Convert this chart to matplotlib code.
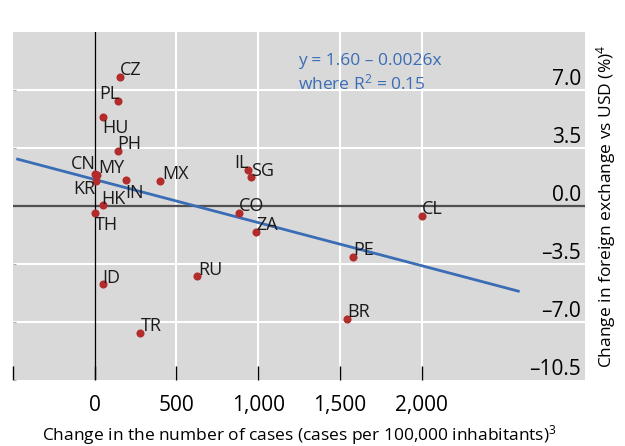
import matplotlib
matplotlib.use("Agg")
import matplotlib.pyplot as plt

plt.rcParams['font.family'] = ['Open Sans', 'DejaVu Sans']
plt.rcParams['mathtext.fontset'] = 'custom'
plt.rcParams['mathtext.rm'] = 'Open Sans'
plt.rcParams['mathtext.it'] = 'Open Sans:italic'

# ---- data ----
countries = ["CZ", "PL", "HU", "PH", "CN", "MY", "KR", "IN", "MX", "IL", "SG",
             "HK", "TH", "CO", "ZA", "CL", "PE", "BR", "RU", "ID", "TR"]
cases_change = [152, 140, 49, 140, 0, 15, 10, 189, 402, 939, 957,
                51, 4, 884, 988, 2000, 1579, 1543, 628, 49, 280]
fx_change = [7.78, 6.34, 5.37, 3.32, 1.95, 1.85, 1.50, 1.57, 1.51, 2.17, 1.75,
             0.05, -0.40, -0.42, -1.57, -0.60, -3.08, -6.82, -4.22, -4.70, -7.66]
fit_intercept = 1.60
fit_slope = -0.0026
fit_x_range = [-480, 2600]
x_ticks = [-500, 0, 500, 1000, 1500, 2000]
x_tick_labels = ["", "0", "500", "1,000", "1,500", "2,000"]
y_ticks = [7.0, 3.5, 0.0, -3.5, -7.0, -10.5]
y_tick_labels = ["7.0", "3.5", "0.0", "\u20133.5", "\u20137.0", "\u201310.5"]

# label placement (offset in points, horizontal alignment)
label_style = {
    "CZ": (0, 5, "left"), "PL": (1, 5, "right"), "HU": (0, -8, "left"),
    "PH": (0, 5, "left"), "CN": (1, 7, "right"), "MY": (1, 5, "left"),
    "KR": (-1, -6, "right"), "IN": (0, -9.5, "left"), "MX": (1, 5, "left"),
    "IL": (0, 5, "right"), "SG": (0, 4, "left"), "HK": (-1, 4.5, "left"),
    "TH": (0, -9, "left"), "CO": (0, 5, "left"), "ZA": (0, 5, "left"),
    "CL": (0, 5, "left"), "PE": (0, 5, "left"), "BR": (0, 5, "left"),
    "RU": (1, 4, "left"), "ID": (0, 4, "left"), "TR": (0, 5, "left"),
}

RED = "#b22c2c"
BLUE = "#3a6db5"
BG = "#d9d9d9"

fig = plt.figure(figsize=(6.25, 4.46), dpi=100)
ax = fig.add_axes([13/625, 1-380/446, (585-13)/625, (380-32)/446])
ax.set_facecolor(BG)
ax.set_xlim(-500, 3000)
ax.set_ylim(-10.5, 10.5)
for s in ax.spines.values():
    s.set_visible(False)

# grid
for xv in [500, 1000, 1500, 2000]:
    ax.axvline(xv, color="white", lw=1.5, zorder=1)
for yv in [7.0, 3.5, -3.5, -7.0]:
    ax.axhline(yv, color="white", lw=1.5, zorder=1)
ax.axhline(0, color="#505050", lw=1.6, zorder=2)
ax.axvline(0, color="black", lw=0.9, zorder=2)

# regression line
fx = fit_x_range
fy = [fit_intercept + fit_slope * v for v in fx]
ax.plot(fx, fy, color=BLUE, lw=2.0, zorder=3, solid_capstyle="butt")

# points
ax.scatter(cases_change, fx_change, s=34, color=RED, zorder=4, linewidths=0)
for c, xv, yv in zip(countries, cases_change, fx_change):
    dx, dy, ha = label_style[c]
    ax.annotate(c, (xv, yv), xytext=(dx, dy), textcoords="offset points",
                ha=ha, va="center", fontsize=13, color="#1a1a1a", zorder=5)

# equation
ax.text(1244, 8.75, "y = 1.60 \u2013 0.0026x", color=BLUE, fontsize=12.5,
        ha="left", va="center")
ax.text(1244, 7.42, "where R$^2$ = 0.15", color=BLUE, fontsize=12.5,
        ha="left", va="center")

# ticks
ax.set_xticks(x_ticks)
ax.set_xticklabels(x_tick_labels)
ax.tick_params(axis="x", direction="in", length=10, width=1, color="black",
               pad=11, labelsize=15)
ax.set_yticks(y_ticks)
ax.set_yticklabels(y_tick_labels)
ax.tick_params(axis="y", left=True, right=False, labelleft=False, labelright=True,
               direction="in", length=2, color="#aaaaaa", pad=-3, labelsize=15)
for lbl in ax.get_yticklabels():
    lbl.set_ha("right")
    lbl.set_va("bottom")

fig.text(299/625, 1-435/446,
         "Change in the number of cases (cases per 100,000 inhabitants)$^3$",
         ha="center", va="center", fontsize=12.5)
fig.text(606/625, 1-206/446, "Change in foreign exchange vs USD (%)$^4$",
         ha="center", va="center", rotation=90, fontsize=12.5)

fig.savefig("out.png", dpi=100)
